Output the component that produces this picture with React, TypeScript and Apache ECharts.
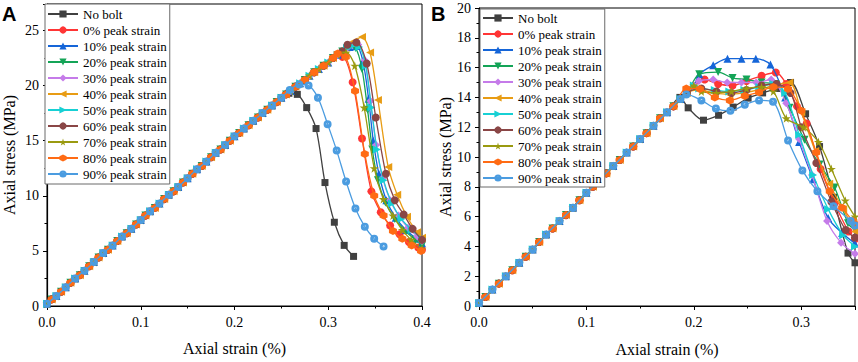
import React, { useEffect, useRef } from 'react';
import * as echarts from 'echarts';

const seriesNames = [
  'No bolt', '0% peak strain', '10% peak strain', '20% peak strain', '30% peak strain',
  '40% peak strain', '50% peak strain', '60% peak strain', '70% peak strain', '80% peak strain', '90% peak strain',
];
const lineColors = ['#404040', '#ff3535', '#1565d8', '#14a457', '#c57be9', '#e89c14', '#17d0d4', '#8a4646', '#9a9a10', '#ff6b14', '#4b9ce0'];
const STAR = 'path://M50,0 L61,35 L98,35 L68,57 L79,91 L50,70 L21,91 L32,57 L2,35 L39,35 Z';
const HEX = 'path://M50,0 L93,25 L93,75 L50,100 L7,75 L7,25 Z';
const SPHERE = 'path://M0,50 A50,50 0 1,1 100,50 A50,50 0 1,1 0,50 Z M36,46 A13,13 0 1,0 62,46 A13,13 0 1,0 36,46 Z';
const symbols = ['rect', 'circle', 'triangle', 'triangle', 'diamond', 'triangle', 'triangle', 'circle', STAR, HEX, SPHERE];
const symbolRotations = [0, 0, 0, 180, 0, 90, -90, 0, 0, 0, 0];
const symbolSizes = [7, 8, 8, 8, 8, 8, 8, 8, 9, 8, 8];

// ---- Panel A: shared pre-peak branch (two marker phases)
const aEvenStrain = [0, 0.01, 0.02, 0.03, 0.04, 0.05, 0.06, 0.07, 0.08, 0.09, 0.1, 0.11, 0.12, 0.13, 0.14, 0.15, 0.16, 0.17, 0.18, 0.19, 0.2, 0.21, 0.22, 0.23, 0.24, 0.25, 0.26, 0.27, 0.28, 0.29, 0.3, 0.31, 0.32];
const aEvenStress = [0.2, 0.9, 1.7, 2.5, 3.2, 4.0, 4.8, 5.5, 6.3, 7.0, 7.8, 8.6, 9.3, 10.1, 10.8, 11.6, 12.4, 13.1, 13.9, 14.6, 15.4, 16.1, 16.8, 17.5, 18.2, 18.9, 19.5, 20.2, 20.9, 21.5, 22.1, 22.8, 23.4];
const aOddStrain = [0.005, 0.015, 0.025, 0.035, 0.045, 0.055, 0.065, 0.075, 0.085, 0.095, 0.105, 0.115, 0.125, 0.135, 0.145, 0.155, 0.165, 0.175, 0.185, 0.195, 0.205, 0.215, 0.225, 0.235, 0.245, 0.255, 0.265, 0.275, 0.285, 0.295, 0.305, 0.315];
const aOddStress = [0.6, 1.3, 2.1, 2.8, 3.6, 4.4, 5.1, 5.9, 6.6, 7.4, 8.2, 8.9, 9.7, 10.4, 11.2, 12.0, 12.7, 13.5, 14.2, 15.0, 15.7, 16.4, 17.1, 17.8, 18.5, 19.2, 19.9, 20.5, 21.2, 21.8, 22.5, 23.1];

// ---- Panel A: peak and post-peak branches
const aNoBolt = [[0.258, 19.3], [0.267, 19.2], [0.277, 18.0], [0.287, 16.1], [0.2965, 11.2], [0.3065, 7.6], [0.317, 5.5], [0.327, 4.5]];
const aP0 = [[0.315, 22.6], [0.326, 20.3], [0.336, 15.2], [0.346, 10.4], [0.356, 8.5], [0.366, 7.3], [0.376, 6.5], [0.386, 5.8], [0.396, 5.3], [0.4, 5.1]];
const aP10 = [[0.323, 23.5], [0.33, 23.6], [0.337, 22.2], [0.343, 18.8], [0.348, 15.0], [0.354, 12.0], [0.362, 9.6], [0.372, 8.0], [0.383, 6.9], [0.394, 6.1], [0.4, 5.7]];
const aP20 = [[0.322, 23.5], [0.329, 23.4], [0.336, 21.5], [0.342, 17.8], [0.347, 14.2], [0.353, 11.4], [0.361, 9.4], [0.371, 7.9], [0.382, 6.8], [0.393, 6.0], [0.4, 5.5]];
const aP30 = [[0.325, 23.7], [0.332, 23.7], [0.339, 22.3], [0.345, 18.6], [0.351, 14.6], [0.358, 11.6], [0.366, 9.6], [0.375, 8.2], [0.385, 7.1], [0.395, 6.3], [0.4, 5.9]];
const aP40 = [[0.327, 24.0], [0.336, 24.4], [0.3446, 23.0], [0.353, 18.7], [0.364, 12.6], [0.3735, 10.1], [0.384, 8.1], [0.3947, 6.7], [0.4, 6.2]];
const aP50 = [[0.325, 23.6], [0.333, 23.5], [0.34, 21.8], [0.346, 18.0], [0.352, 14.2], [0.359, 11.4], [0.368, 9.3], [0.378, 7.9], [0.389, 6.9], [0.4, 6.1]];
const aP60 = [[0.3205, 23.7], [0.33, 23.9], [0.341, 22.0], [0.3507, 17.1], [0.3615, 12.0], [0.371, 9.6], [0.3805, 8.3], [0.39, 7.0], [0.4, 6.0]];
const aP70 = [[0.319, 23.0], [0.3283, 21.8], [0.3383, 18.0], [0.349, 12.5], [0.3587, 9.7], [0.369, 8.2], [0.379, 6.9], [0.3884, 6.0], [0.4, 5.2]];
const aP80 = [[0.31, 22.9], [0.3187, 22.6], [0.3286, 19.5], [0.339, 13.8], [0.349, 10.0], [0.359, 8.2], [0.369, 6.8], [0.379, 6.1], [0.389, 5.5], [0.399, 5.0]];
const aP90 = [[0.259, 19.6], [0.269, 20.1], [0.279, 20.0], [0.289, 18.9], [0.2993, 16.5], [0.309, 14.1], [0.319, 11.3], [0.329, 8.85], [0.339, 7.2], [0.349, 6.1], [0.359, 5.4]];

// ---- Panel B: shared pre-peak branch (two marker phases)
const bEvenStrain = [0, 0.0125, 0.025, 0.0375, 0.05, 0.0625, 0.075, 0.0875, 0.1, 0.1125, 0.125, 0.1375, 0.15, 0.1625, 0.175, 0.1875, 0.2];
const bEvenStress = [0.2, 1.1, 2.0, 2.9, 3.8, 4.8, 5.7, 6.6, 7.6, 8.5, 9.4, 10.3, 11.2, 12.1, 13.0, 13.9, 14.8];
const bOddStrain = [0.006, 0.0185, 0.031, 0.0435, 0.056, 0.0685, 0.081, 0.0935, 0.106, 0.1185, 0.131, 0.1435, 0.156, 0.1685, 0.181, 0.1935];
const bOddStress = [0.6, 1.5, 2.4, 3.3, 4.3, 5.2, 6.1, 7.1, 8.0, 8.9, 9.8, 10.7, 11.6, 12.6, 13.4, 14.3];

// ---- Panel B: peak and post-peak branches
const bNoBolt = [[0.187, 14.0], [0.1947, 13.3], [0.209, 12.47], [0.223, 12.8], [0.2366, 13.35], [0.2505, 13.95], [0.264, 14.3], [0.277, 14.6], [0.29, 15.0], [0.304, 12.9], [0.317, 10.7], [0.33, 7.3], [0.3435, 3.55], [0.35, 2.9]];
const bP0 = [[0.21, 15.2], [0.2226, 14.9], [0.236, 14.8], [0.249, 15.1], [0.263, 15.45], [0.2763, 15.67], [0.286, 14.9], [0.296, 13.4], [0.305, 12.25], [0.318, 9.2], [0.331, 6.9], [0.344, 5.0], [0.35, 4.5]];
const bP10 = [[0.205, 15.56], [0.218, 16.16], [0.2313, 16.6], [0.2443, 16.6], [0.2577, 16.6], [0.2713, 16.2], [0.285, 14.0], [0.298, 11.0], [0.311, 8.5], [0.325, 5.9], [0.338, 4.9], [0.35, 4.2]];
const bP20 = [[0.205, 15.56], [0.2226, 15.7], [0.236, 15.3], [0.249, 15.2], [0.263, 15.0], [0.276, 14.9], [0.289, 13.3], [0.303, 11.15], [0.317, 9.5], [0.331, 7.95], [0.3435, 5.56], [0.35, 5.1]];
const bP30 = [[0.2046, 15.1], [0.218, 15.2], [0.231, 15.0], [0.2443, 15.0], [0.258, 15.0], [0.272, 15.2], [0.286, 13.6], [0.298, 11.2], [0.31, 8.8], [0.324, 5.7], [0.337, 4.25], [0.35, 3.5]];
const bP40 = [[0.2056, 14.5], [0.219, 14.3], [0.233, 14.2], [0.246, 14.3], [0.26, 14.5], [0.274, 14.8], [0.289, 15.0], [0.3, 13.0], [0.313, 10.4], [0.326, 8.2], [0.339, 6.5], [0.35, 5.0]];
const bP50 = [[0.205, 14.6], [0.2195, 14.5], [0.233, 14.4], [0.247, 14.5], [0.261, 14.7], [0.274, 14.9], [0.285, 14.3], [0.298, 11.5], [0.311, 8.8], [0.325, 6.5], [0.339, 4.75], [0.35, 4.0]];
const bP60 = [[0.207, 14.6], [0.221, 14.4], [0.235, 14.3], [0.249, 14.5], [0.263, 14.8], [0.277, 14.9], [0.29, 14.3], [0.3, 12.0], [0.314, 9.6], [0.328, 7.0], [0.3414, 5.1], [0.35, 4.6]];
const bP70 = [[0.207, 14.4], [0.221, 14.3], [0.235, 14.4], [0.249, 14.6], [0.263, 14.7], [0.274, 14.4], [0.286, 12.6], [0.302, 12.0], [0.316, 11.0], [0.328, 9.2], [0.341, 7.07], [0.35, 6.0]];
const bP80 = [[0.193, 14.6], [0.2056, 14.57], [0.2195, 14.0], [0.2335, 13.8], [0.2474, 14.1], [0.2607, 14.35], [0.274, 14.7], [0.2877, 14.57], [0.3, 13.1], [0.314, 10.3], [0.3265, 7.7], [0.338, 6.6], [0.348, 5.7], [0.35, 5.5]];
const bP90 = [[0.193, 14.2], [0.207, 13.8], [0.2205, 13.25], [0.234, 13.1], [0.2474, 13.5], [0.2607, 13.8], [0.2737, 13.7], [0.2877, 11.1], [0.301, 9.1], [0.315, 7.7], [0.33, 6.7], [0.346, 5.7], [0.35, 5.4]];

const aTails = [aNoBolt, aP0, aP10, aP20, aP30, aP40, aP50, aP60, aP70, aP80, aP90];
const bTails = [bNoBolt, bP0, bP10, bP20, bP30, bP40, bP50, bP60, bP70, bP80, bP90];

const yTicksA = [0, 5, 10, 15, 20, 25];
const yTicksB = [0, 2, 4, 6, 8, 10, 12, 14, 16, 18, 20];
const xTicks = ['0.0', '0.1', '0.2', '0.3', '0.4'];

const SERIF = 'Liberation Serif';

function joinBranch(bx: number[], by: number[], tail: number[][]) {
  const start = tail[0][0];
  const pts: number[][] = [];
  for (let i = 0; i < bx.length; i++) {
    if (bx[i] < start - 0.004) pts.push([bx[i], by[i]]);
  }
  return pts.concat(tail);
}

export default function App() {
  const ref = useRef<HTMLDivElement>(null);
  useEffect(() => {
    if (!ref.current) return;
    const chart = echarts.init(ref.current, undefined, { renderer: 'svg' });

    const makeSeries = (panel: number) =>
      seriesNames.map((name, i) => {
        const even = i % 2 === 0;
        const data = panel === 0
          ? joinBranch(even ? aEvenStrain : aOddStrain, even ? aEvenStress : aOddStress, aTails[i])
          : joinBranch(even ? bEvenStrain : bOddStrain, even ? bEvenStress : bOddStress, bTails[i]);
        return {
          type: 'line',
          name,
          xAxisIndex: panel,
          yAxisIndex: panel,
          data,
          smooth: 0.3,
          symbol: symbols[i],
          symbolSize: symbolSizes[i],
          symbolRotate: symbolRotations[i],
          showAllSymbol: true,
          lineStyle: { color: lineColors[i], width: 1.3 },
          itemStyle: { color: lineColors[i], borderWidth: 0 },
          z: 2 + i,
        };
      });

    const xLabel = (v: number) => {
      const k = v * 10;
      return Math.abs(k - Math.round(k)) < 1e-6 ? xTicks[Math.round(k)] : '';
    };
    const axisCommon = {
      axisLine: { show: true, lineStyle: { color: '#000', width: 1.2 } },
      axisTick: { show: true, inside: false, length: 4, lineStyle: { color: '#000', width: 1 } },
      minorTick: { show: true, splitNumber: 2, length: 2.5, lineStyle: { color: '#000', width: 1 } },
      splitLine: { show: false },
      nameTextStyle: { fontFamily: SERIF, fontSize: 16, color: '#000' },
    };
    const labelStyle = { fontFamily: SERIF, fontSize: 14, color: '#000' };

    const legendCommon = {
      orient: 'vertical',
      itemWidth: 30,
      itemHeight: 9,
      itemGap: 2,
      borderColor: '#6a6a6a',
      borderWidth: 1,
      backgroundColor: '#fff',
      borderRadius: 0,
      textStyle: { fontFamily: SERIF, fontSize: 13, lineHeight: 14, color: '#000' },
      data: seriesNames,
      z: 20,
    };

    chart.setOption({
      animation: false,
      backgroundColor: '#fff',
      grid: [
        { left: 44, top: 4, width: 378, height: 302, show: true, borderColor: '#000', borderWidth: 1, backgroundColor: 'transparent' },
        { left: 479, top: 8, width: 377, height: 302, show: true, borderColor: '#000', borderWidth: 1, backgroundColor: 'transparent' },
      ],
      legend: [
        { ...legendCommon, left: 45, top: 4, padding: [3, 3, 3, 2] },
        { ...legendCommon, left: 480, top: 9, padding: [2, 3, 2, 2] },
      ],
      xAxis: [
        {
          ...axisCommon, type: 'value', gridIndex: 0, min: 0, max: 0.4, interval: 0.1,
          name: 'Axial strain (%)', nameLocation: 'middle', nameGap: 34,
          axisLabel: { ...labelStyle, margin: 9, formatter: xLabel },
        },
        {
          ...axisCommon, type: 'value', gridIndex: 1, min: 0, max: 0.35, interval: 0.1,
          name: 'Axial strain (%)', nameLocation: 'middle', nameGap: 35,
          axisLabel: { ...labelStyle, margin: 9, formatter: xLabel },
        },
      ],
      yAxis: [
        {
          ...axisCommon, type: 'value', gridIndex: 0, min: 0, max: 27.4, interval: 5,
          name: 'Axial stress (MPa)', nameLocation: 'middle', nameGap: 30,
          axisLabel: { ...labelStyle, margin: 8, formatter: (v: number) => (yTicksA.indexOf(v) >= 0 ? String(v) : '') },
        },
        {
          ...axisCommon, type: 'value', gridIndex: 1, min: 0, max: 20, interval: 2,
          name: 'Axial stress (MPa)', nameLocation: 'middle', nameGap: 26,
          axisLabel: { ...labelStyle, margin: 8, formatter: (v: number) => (yTicksB.indexOf(v) >= 0 ? String(v) : '') },
        },
      ],
      graphic: [
        { type: 'text', left: 2, top: 4, style: { text: 'A', font: 'bold 20px Liberation Sans', fill: '#000' } },
        { type: 'text', left: 431, top: 4, style: { text: 'B', font: 'bold 20px Liberation Sans', fill: '#000' } },
      ],
      series: [...makeSeries(0), ...makeSeries(1)],
    });

    return () => chart.dispose();
  }, []);

  return <div ref={ref} style={{ position: 'fixed', left: 0, top: 0, width: 858, height: 362, background: '#fff' }} />;
}
